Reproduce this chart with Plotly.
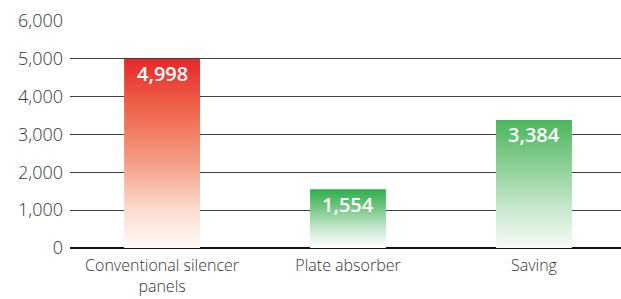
import plotly.graph_objects as go

categories = ["Conventional silencer<br>panels", "Plate absorber", "Saving"]
values = [4998, 1554, 3384]
value_labels = ["4,998", "1,554", "3,384"]
gradients = [
    [[0, "#FFFAF7"], [0.2, "#FBDCCF"], [0.45, "#F49E86"], [0.75, "#EE6148"], [1, "#E8282B"]],
    [[0, "#FFFFFF"], [0.35, "#C4E6CB"], [0.75, "#67C177"], [1, "#2BAE4A"]],
    [[0, "#F7FBF7"], [0.3, "#C9E8CE"], [0.65, "#8ACF95"], [1, "#4BB55A"]],
]
y_ticks = [0, 1000, 2000, 3000, 4000, 5000, 6000]
y_tick_labels = ["0", "1,000", "2,000", "3,000", "4,000", "5,000", "6,000"]

BAR_HALF = 0.204
FONT = "Open Sans"

fig = go.Figure()
for i, v in enumerate(values):
    xs = [i - BAR_HALF, i - BAR_HALF, i + BAR_HALF, i + BAR_HALF, i - BAR_HALF]
    ys = [0, v, v, 0, 0]
    fig.add_trace(go.Scatter(
        x=xs, y=ys, mode="lines", line=dict(width=0, color="rgba(0,0,0,0)"),
        fill="toself",
        fillgradient=dict(type="vertical", colorscale=gradients[i], start=0, stop=v),
        hoverinfo="skip", showlegend=False))

for i, v in enumerate(values):
    fig.add_annotation(
        x=i, y=v, text=value_labels[i], showarrow=False, yanchor="middle",
        yshift=-15, font=dict(family=FONT, size=20, color="white", weight=600))

fig.update_layout(
    width=621, height=299,
    margin=dict(l=70, r=0, t=21, b=51, autoexpand=False),
    plot_bgcolor="white", paper_bgcolor="white",
    font=dict(family=FONT, size=16, color="#333333"),
)
fig.update_xaxes(
    range=[-0.495, 2.468], tickvals=list(range(len(categories))), ticktext=categories,
    showgrid=False, zeroline=False, showline=False, ticks="", automargin=False,
    ticklabelstandoff=6,
    tickfont=dict(family=FONT, size=16, color="#333333", weight=300),
)
fig.update_yaxes(
    range=[0, 6000], tickvals=y_ticks, ticktext=y_tick_labels,
    showgrid=True, gridcolor="#3f3f3f", gridwidth=1.3,
    zeroline=True, zerolinecolor="#111111", zerolinewidth=2,
    showline=False, ticks="", ticklabelstandoff=6, automargin=False,
    tickfont=dict(family=FONT, size=18, color="#333333", weight=300),
)

fig.write_html("out.html",
               config={"displayModeBar": False, "staticPlot": True},
               post_script="document.body.style.margin='0px';document.body.style.overflow='hidden';")
